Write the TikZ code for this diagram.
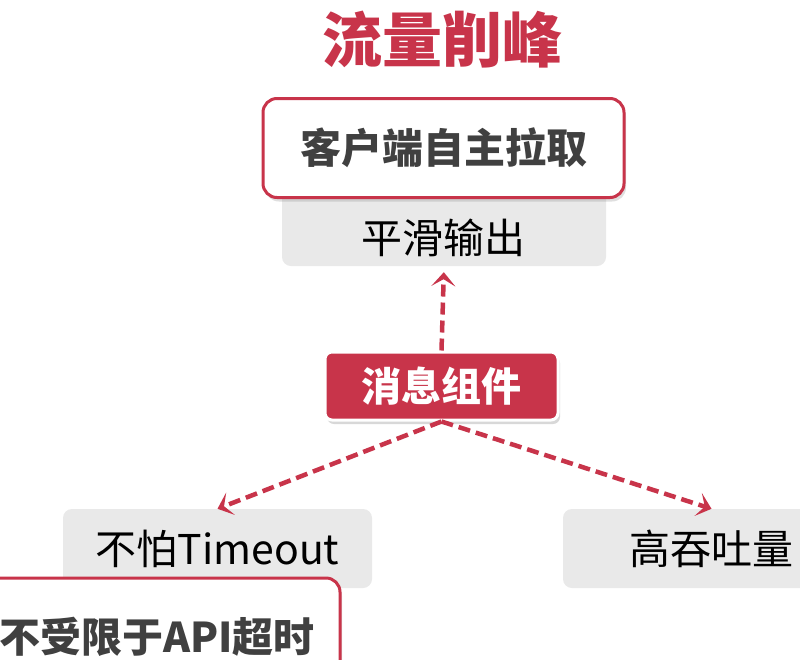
\documentclass[tikz,border=0pt]{standalone}
\usepackage{fontspec}
\setmainfont{Noto Sans CJK SC}
\usetikzlibrary{arrows.meta,shadows}
\definecolor{brand}{HTML}{C8344A}
\definecolor{boxgray}{HTML}{E9E9E9}
\definecolor{darktext}{HTML}{404040}
\tikzset{
  graybox/.style={fill=boxgray, rounded corners=9pt, inner sep=0pt, text=black,
    font=\fontsize{41}{46}\selectfont},
  whitebox/.style={fill=white, draw=brand, line width=3pt, rounded corners=14pt,
    inner sep=0pt, text=darktext, font=\bfseries\fontsize{41}{46}\selectfont,
    drop shadow={shadow xshift=2pt, shadow yshift=-4pt, opacity=0.25}},
  hubbox/.style={fill=brand, draw=white, line width=3pt, rounded corners=7pt,
    inner sep=0pt, text=white, font=\bfseries\fontsize{40}{46}\selectfont,
    drop shadow={shadow xshift=2pt, shadow yshift=-4pt, opacity=0.3}},
  flow/.style={draw=brand, line width=4.5pt, dash pattern=on 12pt off 6pt,
    -{Stealth[length=14pt,width=24pt,inset=7pt]}},
}
\begin{document}
\begin{tikzpicture}[x=1pt,y=-1pt]
\useasboundingbox (0,0) rectangle (800,659);
\clip (0,0) rectangle (800,659);
\fill[white] (0,0) rectangle (800,659);

\node[text=brand, font=\bfseries\fontsize{60}{68}\selectfont] (title) at (442,40) {流量削峰};

\node[graybox, minimum width=324pt, minimum height=76pt] (smooth) at (444,228) {};
\node[text=black, font=\fontsize{41}{46}\selectfont, inner sep=0pt] (smoothtext) at (443,238) {平滑输出};
\node[whitebox, minimum width=361pt, minimum height=99pt] (pull) at (443.5,148) {客户端自主拉取};

\node[hubbox, minimum width=233pt, minimum height=68pt] (hub) at (441.5,386) {消息组件};

\node[graybox, minimum width=309pt, minimum height=79pt] (timeout) at (217.5,548.5) {不怕Timeout};
\node[graybox, minimum width=297pt, minimum height=79pt] (tput) at (711.5,548.5) {高吞吐量};
\node[whitebox, minimum width=366pt, minimum height=122pt] (api) at (157,639) {\raisebox{9pt}{不受限于API超时}};

\draw[flow, shorten >=6pt] (hub.north) -- (smooth.south);
\draw[flow] (hub.south) -- (timeout.north);
\draw[flow] (hub.south) -- (tput.north);
\end{tikzpicture}
\end{document}
